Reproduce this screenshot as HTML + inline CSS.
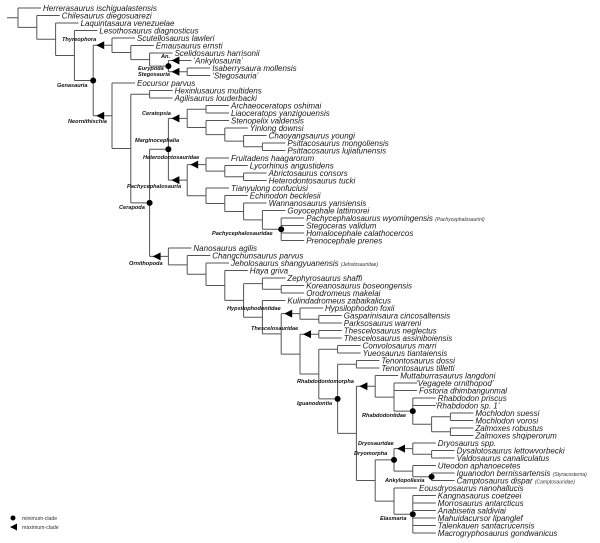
<!DOCTYPE html>
<html><head><meta charset="utf-8"><style>
html,body{margin:0;padding:0;background:#fff;}
svg{display:block;}
.t{font-family:"Liberation Sans",sans-serif;font-style:italic;font-size:8px;fill:#1a1a1a;}
.l{font-family:"Liberation Sans",sans-serif;font-style:italic;font-weight:bold;font-size:5.6px;fill:#111;}
.s{font-family:"Liberation Sans",sans-serif;font-style:italic;font-size:5px;fill:#333;}
.g{font-family:"Liberation Sans",sans-serif;font-size:5.2px;fill:#333;}
</style></head><body>
<svg id="sv" width="600" height="543" viewBox="0 0 600 543" xmlns="http://www.w3.org/2000/svg">
<g id="tree" stroke="#555" stroke-width="1" fill="none"></g>
<g id="marks" fill="#000"></g>
<g>
<text class="t" x="43" y="11">Herrerasaurus ischigualastensis</text>
<text class="t" x="61.8" y="18.5">Chilesaurus diegosuarezi</text>
<text class="t" x="80.6" y="26">Laquintasaura venezuelae</text>
<text class="t" x="99.4" y="33.5">Lesothosaurus diagnosticus</text>
<text class="t" x="137" y="41">Scutellosaurus lawleri</text>
<text class="t" x="155.8" y="48.5">Emausaurus ernsti</text>
<text class="t" x="174.6" y="56">Scelidosaurus harrisonii</text>
<text class="t" x="193.4" y="63.5">‘Ankylosauria’</text>
<text class="t" x="212.2" y="71">Isaberrysaura mollensis</text>
<text class="t" x="212.2" y="78.5">‘Stegosauria’</text>
<text class="t" x="137" y="86">Eocursor parvus</text>
<text class="t" x="174.6" y="93.5">Hexinlusaurus multidens</text>
<text class="t" x="174.6" y="101">Agilisaurus louderbacki</text>
<text class="t" x="231" y="108.5">Archaeoceratops oshimai</text>
<text class="t" x="231" y="116">Liaoceratops yanzigouensis</text>
<text class="t" x="231" y="123.5">Stenopelix valdensis</text>
<text class="t" x="249.8" y="131">Yinlong downsi</text>
<text class="t" x="268.6" y="138.5">Chaoyangsaurus youngi</text>
<text class="t" x="287.4" y="146">Psittacosaurus mongoliensis</text>
<text class="t" x="287.4" y="153.5">Psittacosaurus lujiatunensis</text>
<text class="t" x="231" y="161">Fruitadens haagarorum</text>
<text class="t" x="249.8" y="168.5">Lycorhinus angustidens</text>
<text class="t" x="268.6" y="176">Abrictosaurus consors</text>
<text class="t" x="268.6" y="183.5">Heterodontosaurus tucki</text>
<text class="t" x="231" y="191">Tianyulong confuciusi</text>
<text class="t" x="249.8" y="198.5">Echinodon becklesii</text>
<text class="t" x="268.6" y="206">Wannanosaurus yansiensis</text>
<text class="t" x="287.4" y="213.5">Goyocephale lattimorei</text>
<text class="t" x="306.2" y="221">Pachycephalosaurus wyomingensis <tspan class="s">(Pachycephalosaurini)</tspan></text>
<text class="t" x="306.2" y="228.5">Stegoceras validum</text>
<text class="t" x="306.2" y="236">Homalocephale calathocercos</text>
<text class="t" x="306.2" y="243.5">Prenocephale prenes</text>
<text class="t" x="193.4" y="251">Nanosaurus agilis</text>
<text class="t" x="212.2" y="258.5">Changchunsaurus parvus</text>
<text class="t" x="231" y="266">Jeholosaurus shangyuanensis <tspan class="s">(Jeholosauridae)</tspan></text>
<text class="t" x="249.8" y="273.5">Haya griva</text>
<text class="t" x="287.4" y="281">Zephyrosaurus shaffi</text>
<text class="t" x="306.2" y="288.5">Koreanosaurus boseongensis</text>
<text class="t" x="306.2" y="296">Orodromeus makelai</text>
<text class="t" x="287.4" y="303.5">Kulindadromeus zabaikalicus</text>
<text class="t" x="325" y="311">Hypsilophodon foxii</text>
<text class="t" x="343.8" y="318.5">Gasparinisaura cincosaltensis</text>
<text class="t" x="343.8" y="326">Parksosaurus warreni</text>
<text class="t" x="343.8" y="333.5">Thescelosaurus neglectus</text>
<text class="t" x="343.8" y="341">Thescelosaurus assiniboiensis</text>
<text class="t" x="362.6" y="348.5">Convolosaurus marri</text>
<text class="t" x="362.6" y="356">Yueosaurus tiantaiensis</text>
<text class="t" x="381.4" y="363.5">Tenontosaurus dossi</text>
<text class="t" x="381.4" y="371">Tenontosaurus tilletti</text>
<text class="t" x="400.2" y="378.5">Muttaburrasaurus langdoni</text>
<text class="t" x="416" y="386">‘Vegagete ornithopod’</text>
<text class="t" x="419" y="393.5">Fostoria dhimbangunmal</text>
<text class="t" x="437.8" y="401">Rhabdodon priscus</text>
<text class="t" x="435" y="408.5">‘Rhabdodon sp. 1’</text>
<text class="t" x="475.4" y="416">Mochlodon suessi</text>
<text class="t" x="475.4" y="423.5">Mochlodon vorosi</text>
<text class="t" x="475.4" y="431">Zalmoxes robustus</text>
<text class="t" x="475.4" y="438.5">Zalmoxes shqiperorum</text>
<text class="t" x="437.8" y="446">Dryosaurus spp.</text>
<text class="t" x="456.6" y="453.5">Dysalotosaurus lettowvorbecki</text>
<text class="t" x="456.6" y="461">Valdosaurus canaliculatus</text>
<text class="t" x="437.8" y="468.5">Uteodon aphanoecetes</text>
<text class="t" x="456.6" y="476">Iguanodon bernissartensis <tspan class="s">(Styracosterna)</tspan></text>
<text class="t" x="456.6" y="483.5">Camptosaurus dispar <tspan class="s">(Camptosauridae)</tspan></text>
<text class="t" x="419" y="491">Eousdryosaurus nanohallucis</text>
<text class="t" x="437.8" y="498.5">Kangnasaurus coetzeei</text>
<text class="t" x="437.8" y="506">Morrosaurus antarcticus</text>
<text class="t" x="437.8" y="513.5">Anabisetia saldiviai</text>
<text class="t" x="437.8" y="521">Mahuidacursor lipanglef</text>
<text class="t" x="437.8" y="528.5">Talenkauen santacrucensis</text>
<text class="t" x="437.8" y="536">Macrogryphosaurus gondwanicus</text>
</g>
<g>
<text class="l" x="62" y="41">Thyreophora</text>
<text class="l" x="161" y="58">An.</text>
<text class="l" x="138" y="70">Eurypoda</text>
<text class="l" x="138" y="76">Stegosauria</text>
<text class="l" x="57" y="87">Genasauria</text>
<text class="l" x="68" y="123">Neornithischia</text>
<text class="l" x="142" y="115">Ceratopsia</text>
<text class="l" x="135" y="142">Marginocephalia</text>
<text class="l" x="143" y="159">Heterodontosauridae</text>
<text class="l" x="127" y="188">Pachycephalosauria</text>
<text class="l" x="119" y="209">Cerapoda</text>
<text class="l" x="212" y="235">Pachycephalosauridae</text>
<text class="l" x="129" y="265">Ornithopoda</text>
<text class="l" x="227" y="310">Hypsilophodontidae</text>
<text class="l" x="251" y="330">Thescelosauridae</text>
<text class="l" x="297" y="383">Rhabdodontomorpha</text>
<text class="l" x="297" y="405">Iguanodontia</text>
<text class="l" x="362" y="417">Rhabdodontidae</text>
<text class="l" x="358" y="445">Dryosauridae</text>
<text class="l" x="354" y="455">Dryomorpha</text>
<text class="l" x="385" y="482">Ankylopollexia</text>
<text class="l" x="380" y="520">Elasmaria</text>
</g>
<circle cx="13" cy="518" r="2.5" fill="#000"/>
<text class="g" x="22" y="520">minimum-clade</text>
<polygon points="10,527 17,523.5 17,530.5" fill="#000"/>
<text class="g" x="22" y="529">maximum-clade</text>
</svg>
<script>
(function(){
var X=function(d){return 18+18.8*d;};
var LY=function(i){return 8+7.5*(i-1);};
function N(d,m){return {d:d,m:m,c:Array.prototype.slice.call(arguments,2)};}
var Ig=N(17,'dot',N(18,'',48,49),N(18,'',
  N(19,'tri',50,N(20,'',51,52,N(21,'dot',53,54,N(22,'',N(23,'',55,56),N(23,'',57,58))))),
  N(19,'',N(20,'dot',N(21,'tri',59,N(22,'',60,61)),N(21,'',62,N(22,'dot',63,64))),
          N(20,'',65,N(21,'dot',66,67,68,69,70,71)))));
var Orn=N(8,'tri',33,N(9,'',34,N(10,'',35,N(11,'',36,N(12,'',
  N(13,'',37,N(14,'',38,39)),
  N(13,'',40,N(14,'',N(15,'tri',41,N(16,'',42,43)),N(15,'',N(16,'tri',44,45),N(16,'',N(17,'',46,47),Ig)))))))));
var Cer=N(9,'tri',N(10,'',14,15),N(10,'',16,N(11,'',17,N(12,'',18,N(13,'',19,20)))));
var Pac=N(9,'tri',N(10,'tri',21,N(11,'',22,N(12,'',23,24))),
  N(10,'',25,N(11,'',26,N(12,'',27,N(13,'',28,N(14,'dot',29,30,31,32))))));
var Neo=N(5,'tri',11,N(6,'',N(7,'',12,13),N(7,'dot',N(8,'dot',Cer,Pac),Orn)));
var Thy=N(5,'tri',5,N(6,'',6,N(7,'',7,N(8,'dot',{leaf:8,m:'tri'},N(9,'tri',9,10)))));
var root=N(0,'',1,N(1,'',2,N(2,'',3,N(3,'',4,N(4,'dot',Thy,Neo)))));
var lines=[],marks=[];
function yOf(n){
  if(typeof n==='number')return LY(n);
  if(n.leaf)return LY(n.leaf);
  var ys=n.c.map(yOf);n.ys=ys;n.y=(ys[0]+ys[ys.length-1])/2;return n.y;
}
yOf(root);
function tri(px,y){marks.push('<polygon points="'+(px+3)+','+y+' '+(px+11)+','+(y-4)+' '+(px+11)+','+(y+4)+'"/>');}
function draw(n){
  var x=X(n.d);
  lines.push('M'+x+' '+n.ys[0]+'V'+n.ys[n.ys.length-1]);
  n.c.forEach(function(ch,i){
    var y=n.ys[i];
    if(typeof ch==='number'||ch.leaf){
      lines.push('M'+x+' '+y+'H'+(X(n.d)+23));
      if(ch.m==='tri')tri(x,y);
    }else{
      lines.push('M'+x+' '+y+'H'+X(ch.d));
      if(ch.m==='tri')tri(x,y);
      draw(ch);
    }
  });
  if(n.m==='dot')marks.push('<circle cx="'+x+'" cy="'+n.y+'" r="3"/>');
}
draw(root);
lines.push('M7 '+root.y+'H18');
document.getElementById('tree').innerHTML='<path d="'+lines.join('')+'"/>';
document.getElementById('marks').innerHTML=marks.join('');
})();
</script>
</body></html>
